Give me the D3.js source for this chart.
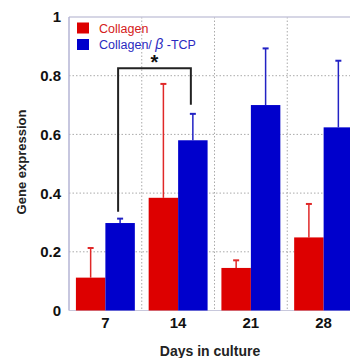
<!DOCTYPE html>
<html>
<head>
<meta charset="utf-8">
<script src="https://cdn.jsdelivr.net/npm/d3@7"></script>
<style>
  body { margin: 0; background: #fff; }
  svg { display: block; }
</style>
</head>
<body>
<svg></svg>
<script>
// days and series
var days = ["7", "14", "21", "28"];
var series = ["Collagen", "Collagen/ \u03B2 -TCP"];
var collagen = [0.112, 0.384, 0.145, 0.249];
var collagenErr = [0.213, 0.772, 0.171, 0.363];
var tcp = [0.298, 0.58, 0.70, 0.624];
var tcpErr = [0.313, 0.67, 0.893, 0.851];
var yTicks = [0, 0.2, 0.4, 0.6, 0.8, 1];

var width = 350, height = 358;
// plot box (runs off the right edge, like the original)
var pLeft = 69, pRight = 360, pTop = 17, pBottom = 310.5;
var font = 'Arial, "Liberation Sans", sans-serif';
var colors = ["#dd0000", "#0000cc"];
var errColors = ["#e02828", "#2222c4"];

var svg = d3.select("svg").attr("width", width).attr("height", height);

var x = d3.scaleBand().domain(days).range([pLeft, pRight])
          .paddingInner(0.19).paddingOuter(0.095);
var xs = d3.scaleBand().domain([0, 1]).range([0, x.bandwidth()]);
var y = d3.scaleLinear().domain([0, 1]).range([pBottom, pTop]);

// grid
var step = x.step();
var grid = svg.append("g");
grid.selectAll(".vg").data(d3.range(1, 4)).enter().append("line")
    .attr("x1", d => pLeft + d * step).attr("x2", d => pLeft + d * step)
    .attr("y1", pTop).attr("y2", pBottom)
    .attr("stroke", "#aaa").attr("stroke-dasharray", "1.5,2").attr("stroke-width", 1);
grid.selectAll(".hg").data(yTicks.slice(1, 5)).enter().append("line")
    .attr("x1", pLeft).attr("x2", pRight)
    .attr("y1", d => y(d)).attr("y2", d => y(d))
    .attr("stroke", "#aaa").attr("stroke-dasharray", "1.5,2").attr("stroke-width", 1);

// frame
svg.append("line").attr("x1", pLeft).attr("x2", pRight).attr("y1", pTop).attr("y2", pTop)
   .attr("stroke", "#c8c8dc").attr("stroke-width", 1.5);
svg.append("line").attr("x1", pLeft).attr("x2", pLeft).attr("y1", pTop).attr("y2", pBottom)
   .attr("stroke", "#b4b4d4").attr("stroke-width", 1.5);
svg.append("line").attr("x1", pLeft).attr("x2", pRight).attr("y1", pBottom).attr("y2", pBottom)
   .attr("stroke", "#c8c8dc").attr("stroke-width", 1);

// bars + error bars
var groups = [
  { vals: collagen, errs: collagenErr },
  { vals: tcp, errs: tcpErr }
];
groups.forEach(function(g, si) {
  var data = days.map((d, i) => ({ day: d, v: g.vals[i], e: g.errs[i] }));
  var cx = d => x(d.day) + xs(si) + xs.bandwidth() / 2;
  svg.append("g").selectAll("line").data(data).enter().append("line")
     .attr("x1", cx).attr("x2", cx)
     .attr("y1", d => y(d.v)).attr("y2", d => y(d.e))
     .attr("stroke", errColors[si]).attr("stroke-width", 1.5);
  svg.append("g").selectAll("line").data(data).enter().append("line")
     .attr("x1", d => cx(d) - 3).attr("x2", d => cx(d) + 3)
     .attr("y1", d => y(d.e)).attr("y2", d => y(d.e))
     .attr("stroke", errColors[si]).attr("stroke-width", 2);
  svg.append("g").selectAll("rect").data(data).enter().append("rect")
     .attr("x", d => x(d.day) + xs(si))
     .attr("width", xs.bandwidth())
     .attr("y", d => y(d.v))
     .attr("height", d => y(0) - y(d.v))
     .attr("fill", colors[si]);
});

// significance bracket between day 7 and day 14 (Collagen/TCP)
var bx1 = x("7") + xs(1) + xs.bandwidth() / 2 - 2;
var bx2 = x("14") + xs(1) + xs.bandwidth() / 2 - 2;
var by = y(0.825);
svg.append("path")
   .attr("d", `M${bx1},${y(tcpErr[0]) - 7}V${by}H${bx2}V${y(tcpErr[1]) - 9}`)
   .attr("fill", "none").attr("stroke", "#222").attr("stroke-width", 2);
svg.append("text").attr("x", (bx1 + bx2) / 2).attr("y", by + 1)
   .attr("text-anchor", "middle")
   .style("font-family", font).style("font-weight", "bold").style("font-size", "20px")
   .attr("fill", "#111").text("*");

// axes labels
svg.append("g").selectAll("text").data(yTicks).enter().append("text")
   .attr("x", pLeft - 8).attr("y", d => y(d)).attr("dy", "0.36em")
   .attr("text-anchor", "end")
   .style("font-family", font).style("font-weight", "bold").style("font-size", "15px")
   .attr("fill", "#111").text(d => d3.format("")(d));

svg.append("g").selectAll("text").data(days).enter().append("text")
   .attr("x", d => x(d) + x.bandwidth() / 2).attr("y", pBottom + 17)
   .attr("text-anchor", "middle")
   .style("font-family", font).style("font-weight", "bold").style("font-size", "15px")
   .attr("fill", "#111").text(d => d);

svg.append("text")
   .attr("transform", "translate(26," + 162 + ") rotate(-90)")
   .attr("text-anchor", "middle")
   .style("font-family", font).style("font-weight", "bold").style("font-size", "13px")
   .attr("fill", "#222").text("Gene expression");

svg.append("text").attr("x", 210).attr("y", 356)
   .attr("text-anchor", "middle")
   .style("font-family", font).style("font-weight", "bold").style("font-size", "14px")
   .attr("fill", "#222").text("Days in culture");

// legend
var legend = svg.append("g").selectAll("g").data(series).enter().append("g")
   .attr("transform", (d, i) => `translate(77,${22.5 + i * 16.5})`);
legend.append("rect").attr("width", 12).attr("height", 11)
   .attr("fill", (d, i) => colors[i]);
legend.append("text").attr("x", 22).attr("y", 10)
   .style("font-family", font).style("font-size", "12.5px")
   .attr("fill", (d, i) => i ? "#2a2ac0" : "#d42020")
   .each(function(d) {
     // greek beta drawn in italic like the original
     var parts = d.split("\u03B2");
     var t = d3.select(this);
     t.append("tspan").text(parts[0]);
     if (parts.length > 1) {
       t.append("tspan").style("font-style", "italic").style("font-size", "14px").text("\u03B2");
       t.append("tspan").text(parts[1]);
     }
   });
</script>
</body>
</html>
